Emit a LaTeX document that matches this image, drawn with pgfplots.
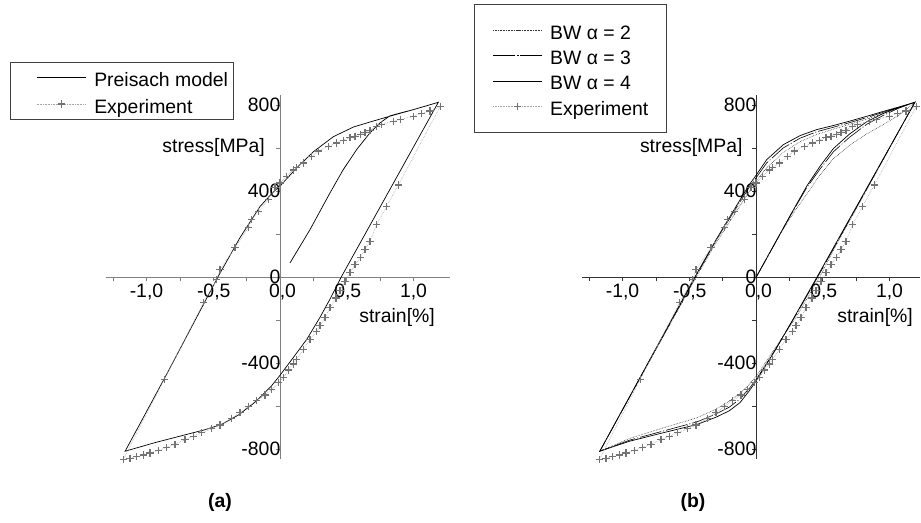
\documentclass[border=0pt]{standalone}
\usepackage{fontspec}
\setmainfont{Liberation Sans}
\usepackage{pgfplots}
\pgfplotsset{compat=1.18}
\newcommand\fs{\fontsize{19.4bp}{23bp}\selectfont}
\pgfplotsset{
  panel/.style={
    anchor=origin, x=133.5bp, y=0.215bp,
    axis lines=middle,
    axis line style={-, line width=0.9bp},
    hide obscured x ticks=false, hide obscured y ticks=false,
    ymin=-845, ymax=851,
    xtick={-1,-0.5,0,0.5,1},
    xticklabels={{-1,0},{\kern1bp-0,5},{\kern5bp0,0},{\kern2bp0,5},{1,0}},
    minor xtick={-1.25,-0.75,-0.25,0.25,0.75},
    ytick={-800,-400,0,400,800},
    yticklabels={-800,-400,0,400,800},
    minor ytick={-600,-200,200,600},
    tick align=outside,
    major tick length=4bp, minor tick length=4bp,
    ticklabel style={font=\fs},
    yticklabel style={anchor=east, inner sep=0pt, xshift=4.5bp, yshift=1bp},
    xticklabel style={anchor=north, inner sep=0pt, yshift=-2.5bp},
    clip=false,
    legend cell align=left,
    legend style={font=\fs, draw=black!75, line width=0.6bp, anchor=north west,
      nodes={inner sep=3.65bp, text height=18bp, text depth=0bp}},
  },
  exp/.style={gray!70, densely dotted, line width=0.6bp, mark=+, mark size=3.6bp,
    mark options={solid, black!55, line width=1.2bp}},
}
\begin{document}
\begin{tikzpicture}
\useasboundingbox (0,0) rectangle (921bp,523bp);
% ---------------- panel (a)
\begin{axis}[panel, at={(280bp,245.5bp)}, xmin=-1.3, xmax=1.27,
  axis line style={gray}, tick style={gray, line width=0.6bp},
  legend image code/.code={\path (-25bp,0bp) (53bp,0bp); \draw[mark repeat=2,mark phase=2,#1] plot coordinates {(0bp,0bp) (24.5bp,0bp) (49bp,0bp)};},
  legend style={at={(-0.2811,1.0893)}, inner xsep=1bp, inner ysep=1.9bp,
    nodes={inner sep=4.3bp}}]
\addplot[black, line width=0.7bp] coordinates {
(0.075,68) (0.225,223) (0.375,394) (0.474,502) (0.574,595) (0.674,673)
(0.75,720) (0.824,752) (0.9,765) (1.0,781) (1.1,799) (1.186,815)
(0.462,6) (0.375,-100) (0.3,-185) (0.2,-288) (0.1,-372) (0,-455)
(-0.062,-503) (-0.187,-580) (-0.312,-640) (-0.437,-683) (-0.562,-708)
(-0.687,-728) (-0.936,-768) (-1.16,-808)
(-0.86,-463) (-0.462,6) (-0.3,185) (-0.15,330) (-0.05,398) (0,425)
(0.125,510) (0.25,585) (0.4,655) (0.55,700) (0.7,728) (0.85,755)
(1.0,781) (1.186,815)};
\addlegendentry{Preisach model}
\addplot[exp] coordinates {
(1.2,795) (0.886,430) (0.80,332) (0.724,246) (0.674,169) (0.637,130)
(0.6,92) (0.562,60) (0.524,22) (0.487,-17) (0.45,-60) (0.42,-95)
(0.375,-141) (0.337,-187) (0.3,-225) (0.275,-250) (0.225,-288)
(0.175,-335) (0.125,-381) (0.1,-402) (0.062,-430) (0.025,-467)
(-0.012,-490) (-0.062,-522) (-0.112,-547) (-0.175,-572) (-0.237,-600)
(-0.30,-628) (-0.362,-655) (-0.45,-686) (-0.512,-704) (-0.587,-722)
(-0.65,-738) (-0.712,-755) (-0.787,-776) (-0.85,-790) (-0.912,-804)
(-0.974,-816) (-1.024,-826) (-1.074,-834) (-1.124,-841) (-1.174,-847)
(-0.867,-474) (-0.574,-118) (-0.474,-9) (-0.45,37) (-0.337,138)
(-0.237,231) (-0.212,270) (-0.162,308) (-0.087,363) (-0.037,417)
(0,440) (0.05,471) (0.1,500) (0.125,512) (0.175,533) (0.237,564)
(0.287,588) (0.362,611) (0.424,626) (0.474,639) (0.524,650) (0.562,657)
(0.6,665) (0.637,676) (0.674,685) (0.724,704) (0.76,712) (0.849,727)
(0.90,735) (1.0,750) (1.06,763) (1.124,774) (1.2,795)};
\addlegendentry{Experiment}
\node[font=\fs, anchor=east, inner sep=0pt] at (axis cs:-0.112,605) {stress[MPa]};
\node[font=\fs, anchor=east, inner sep=0pt] at (axis cs:1.161,-186) {strain[\%]};
\end{axis}
% ---------------- panel (b)
\begin{axis}[panel, at={(756bp,245.5bp)}, xmin=-1.3, xmax=1.23,
  axis line style={black!80}, tick style={black!80, line width=0.6bp},
  legend image code/.code={\path (-4.5bp,0bp) (53bp,0bp); \draw[mark repeat=2,mark phase=2,#1] plot coordinates {(0bp,0bp) (24.5bp,0bp) (49bp,0bp)};},
  legend style={at={(-0.321,1.2486)}, inner xsep=14bp, inner ysep=13.4bp}]
\addplot[black!80, densely dotted, line width=0.6bp] coordinates {
(0,0) (0.2,222) (0.3,318) (0.4,405) (0.48,478) (0.58,553) (0.70,615)
(0.83,668) (0.95,710) (1.07,755) (1.19,815)
(0.8,375) (0.6,150) (0.475,0) (0.3,-185) (0.15,-322) (0.05,-415)
(0,-460) (-0.05,-497) (-0.12,-540) (-0.2,-575) (-0.3,-612) (-0.444,-653)
(-0.694,-699) (-0.944,-748) (-1.17,-808)
(-0.45,0) (-0.3,160) (-0.15,305) (-0.05,400) (0,447) (0.08,510)
(0.205,582) (0.33,632) (0.455,665) (0.58,690) (0.70,712) (0.83,737)
(0.95,762) (1.07,788) (1.19,815)};
\addlegendentry{BW α = 2}
\addplot[black, line width=0.6bp, dash pattern=on 22bp off 2bp on 1bp off 2bp] coordinates {
(0,0) (0.255,285) (0.38,418) (0.48,505) (0.58,585) (0.70,652) (0.83,713)
(0.95,753) (1.07,788) (1.19,815)
(0.46,0) (0.30,-173) (0.15,-330) (0.05,-428) (0,-474) (-0.05,-516)
(-0.12,-565) (-0.2,-603) (-0.3,-635) (-0.444,-672) (-0.694,-714)
(-0.944,-756) (-1.17,-808)
(-0.455,0) (-0.3,172) (-0.15,322) (-0.05,420) (0,463) (0.08,533)
(0.205,603) (0.33,648) (0.455,678) (0.58,699) (0.70,720) (0.83,744)
(0.95,768) (1.07,791) (1.19,815)};
\addlegendentry{BW α = 3}
\addplot[black, line width=0.7bp] coordinates {
(0,0) (0.255,287) (0.38,425) (0.48,518) (0.58,600) (0.70,667) (0.83,725)
(0.95,762) (1.07,792) (1.19,815)
(0.455,0) (0.30,-170) (0.15,-332) (0.05,-432) (0,-482) (-0.05,-527)
(-0.12,-582) (-0.2,-620) (-0.3,-650) (-0.444,-684) (-0.694,-722)
(-0.944,-761) (-1.17,-808)
(-0.46,0) (-0.3,175) (-0.15,330) (-0.05,432) (0,475) (0.08,548)
(0.205,618) (0.33,660) (0.455,688) (0.58,707) (0.70,727) (0.83,750)
(0.95,772) (1.07,793) (1.19,815)};
\addlegendentry{BW α = 4}
\addplot[exp] coordinates {
(1.2,795) (0.886,430) (0.80,332) (0.724,246) (0.674,169) (0.637,130)
(0.6,92) (0.562,60) (0.524,22) (0.487,-17) (0.45,-60) (0.42,-95)
(0.375,-141) (0.337,-187) (0.3,-225) (0.275,-250) (0.225,-288)
(0.175,-335) (0.125,-381) (0.1,-402) (0.062,-430) (0.025,-467)
(-0.012,-490) (-0.062,-522) (-0.112,-547) (-0.175,-572) (-0.237,-600)
(-0.30,-628) (-0.362,-655) (-0.45,-686) (-0.512,-704) (-0.587,-722)
(-0.65,-738) (-0.712,-755) (-0.787,-776) (-0.85,-790) (-0.912,-804)
(-0.974,-816) (-1.024,-826) (-1.074,-834) (-1.124,-841) (-1.174,-847)
(-0.867,-474) (-0.574,-118) (-0.474,-9) (-0.45,37) (-0.337,138)
(-0.237,231) (-0.212,270) (-0.162,308) (-0.087,363) (-0.037,417)
(0,440) (0.05,471) (0.1,500) (0.125,512) (0.175,533) (0.237,564)
(0.287,588) (0.362,611) (0.424,626) (0.474,639) (0.524,650) (0.562,657)
(0.6,665) (0.637,676) (0.674,685) (0.724,704) (0.76,712) (0.849,727)
(0.90,735) (1.0,750) (1.06,763) (1.124,774) (1.2,795)};
\addlegendentry{Experiment}
\node[font=\fs, anchor=east, inner sep=0pt] at (axis cs:-0.10,603) {stress[MPa]};
\node[font=\fs, anchor=east, inner sep=0pt] at (axis cs:1.176,-186) {strain[\%]};
\end{axis}
\node[font=\fs\bfseries] at (220bp,21bp) {(a)};
\node[font=\fs\bfseries] at (693bp,21bp) {(b)};
\end{tikzpicture}
\end{document}
